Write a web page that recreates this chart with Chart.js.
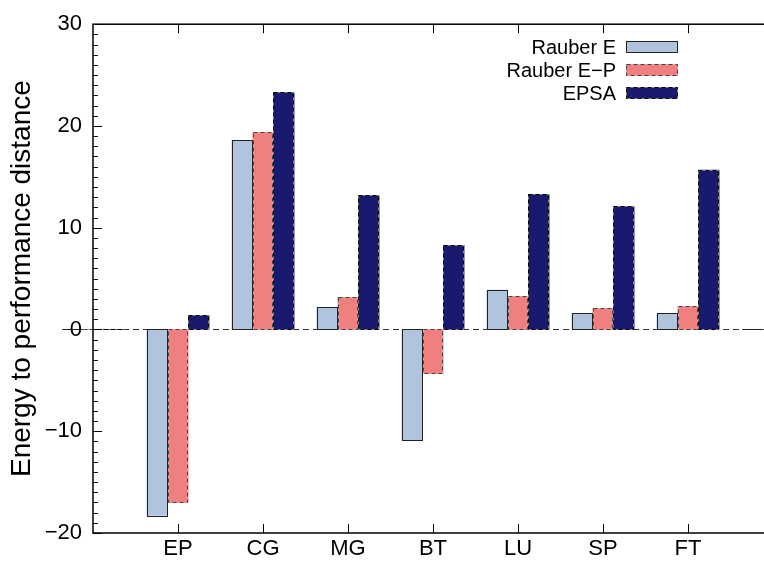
<!DOCTYPE html>
<html lang="en">
<head>
    <meta charset="UTF-8">
    <title>Energy to performance distance</title>
    <script src="https://cdn.jsdelivr.net/npm/chart.js"></script>
    <style>
        html, body { margin: 0; padding: 0; overflow: hidden; background: #fff; }
        #wrap { width: 790px; height: 561px; }
    </style>
</head>
<body>
<div id="wrap"><canvas id="myChart"></canvas></div>
<script>
    const categories = ['EP', 'CG', 'MG', 'BT', 'LU', 'SP', 'FT'];
    const rauberE = [-18.3, 18.6, 2.2, -10.9, 3.9, 1.6, 1.6];
    const rauberEP = [-17.0, 19.4, 3.2, -4.3, 3.3, 2.1, 2.3];
    const epsa = [1.4, 23.3, 13.2, 8.3, 13.3, 12.1, 15.7];
    const yMin = -20, yMax = 30, yStep = 10;

    // empty slot on each side so the categories sit at 1..7 like gnuplot
    const labels = [''].concat(categories, ['']);
    function pad(arr) { return [null].concat(arr, [null]); }

    const FONT = '"Liberation Sans", Arial, Helvetica, sans-serif';

    const gnuplotStyle = {
        id: 'gnuplotStyle',
        beforeDatasetsDraw(chart) {
            const ctx = chart.ctx, a = chart.chartArea;
            const y0 = chart.scales.y.getPixelForValue(0);
            ctx.save();
            ctx.strokeStyle = '#333';
            ctx.lineWidth = 1;
            ctx.setLineDash([6, 4]);
            ctx.beginPath();
            ctx.moveTo(a.left, Math.round(y0) + 0.5);
            ctx.lineTo(a.right, Math.round(y0) + 0.5);
            ctx.stroke();
            ctx.restore();
        },
        afterDatasetsDraw(chart) {
            const ctx = chart.ctx, a = chart.chartArea;
            const xs = chart.scales.x, ys = chart.scales.y;
            ctx.save();
            // bar outlines
            chart.data.datasets.forEach((ds, di) => {
                const meta = chart.getDatasetMeta(di);
                meta.data.forEach(el => {
                    if (el.skip || isNaN(el.y)) return;
                    const l = Math.round(el.x - el.width / 2) + 0.5;
                    const r = Math.round(el.x + el.width / 2) - 0.5;
                    const t = Math.round(Math.min(el.y, el.base)) + 0.5;
                    const b = Math.round(Math.max(el.y, el.base)) + 0.5;
                    ctx.lineWidth = 1;
                    if (ds.outlineDash) {
                        ctx.setLineDash([]);
                        ctx.strokeStyle = ds.outlineBase;
                        ctx.strokeRect(l, t, r - l, b - t);
                        ctx.setLineDash(ds.outlineDash);
                    } else {
                        ctx.setLineDash([]);
                    }
                    ctx.strokeStyle = ds.outlineColor;
                    ctx.strokeRect(l, t, r - l, b - t);
                });
            });
            ctx.setLineDash([]);

            // frame
            ctx.strokeStyle = '#000';
            ctx.lineWidth = 1.5;
            ctx.strokeRect(a.left, a.top, a.right - a.left, a.bottom - a.top);

            // inward ticks
            ctx.lineWidth = 1;
            ctx.beginPath();
            for (let v = yMin; v <= yMax; v++) {
                const y = Math.round(ys.getPixelForValue(v)) + 0.5;
                const len = v % yStep === 0 ? 9 : 5;
                ctx.moveTo(a.left, y); ctx.lineTo(a.left + len, y);
                ctx.moveTo(a.right, y); ctx.lineTo(a.right - len, y);
            }
            for (let i = 1; i <= categories.length; i++) {
                const x = Math.round(xs.getPixelForValue(i)) + 0.5;
                ctx.moveTo(x, a.bottom); ctx.lineTo(x, a.bottom - 9);
                ctx.moveTo(x, a.top); ctx.lineTo(x, a.top + 9);
            }
            ctx.stroke();

            // legend, text right aligned with the sample to its right
            ctx.font = '20px ' + FONT;
            ctx.textAlign = 'right';
            ctx.textBaseline = 'middle';
            const rows = [47, 70, 93];
            chart.data.datasets.forEach((ds, di) => {
                const cy = rows[di];
                ctx.fillStyle = '#000';
                ctx.fillText(ds.label, 616, cy + 1);
                const bx = 626.5, by = cy - 5.5, bw = 51, bh = 11;
                ctx.fillStyle = ds.backgroundColor;
                ctx.fillRect(bx, by, bw, bh);
                ctx.lineWidth = 1;
                if (ds.outlineDash) {
                    ctx.setLineDash([]);
                    ctx.strokeStyle = ds.outlineBase;
                    ctx.strokeRect(bx, by, bw, bh);
                    ctx.setLineDash(ds.outlineDash);
                }
                ctx.strokeStyle = ds.outlineColor;
                ctx.strokeRect(bx, by, bw, bh);
                ctx.setLineDash([]);
            });
            ctx.restore();
        }
    };

    new Chart(document.getElementById('myChart'), {
        type: 'bar',
        data: {
            labels: labels,
            datasets: [{
                label: 'Rauber E',
                data: pad(rauberE),
                backgroundColor: '#b0c4de',
                borderWidth: 0,
                outlineColor: '#222'
            }, {
                label: 'Rauber E\u2212P',
                data: pad(rauberEP),
                backgroundColor: '#f08080',
                borderWidth: 0,
                outlineColor: '#444',
                outlineBase: '#f3a0a0',
                outlineDash: [4, 3]
            }, {
                label: 'EPSA',
                data: pad(epsa),
                backgroundColor: '#191970',
                borderWidth: 0,
                outlineColor: '#000',
                outlineBase: '#888',
                outlineDash: [4, 3]
            }]
        },
        options: {
            responsive: true,
            maintainAspectRatio: false,
            animation: false,
            layout: { padding: { left: 0, top: 20, right: 17, bottom: 0 } },
            plugins: { legend: { display: false }, tooltip: { enabled: false } },
            datasets: { bar: { categoryPercentage: 0.74, barPercentage: 1 } },
            scales: {
                x: {
                    offset: false,
                    grid: { display: false, drawTicks: false, offset: false },
                    border: { display: false },
                    ticks: {
                        color: '#000',
                        font: { family: FONT, size: 22 },
                        padding: 3,
                        maxRotation: 0,
                        autoSkip: false
                    },
                    afterFit(scale) { scale.height = 28; }
                },
                y: {
                    min: yMin,
                    max: yMax,
                    grid: { display: false, drawTicks: false },
                    border: { display: false },
                    ticks: {
                        stepSize: yStep,
                        color: '#000',
                        padding: 11,
                        font: { family: FONT, size: 22 },
                        callback: v => String(v).replace('-', '\u2212')
                    },
                    title: {
                        display: true,
                        text: 'Energy to performance distance',
                        color: '#000',
                        font: { family: FONT, size: 28 },
                        padding: { top: 5, bottom: 4 }
                    },
                    afterFit(scale) { scale.width = 93; }
                }
            }
        },
        plugins: [gnuplotStyle]
    });
</script>
</body>
</html>
